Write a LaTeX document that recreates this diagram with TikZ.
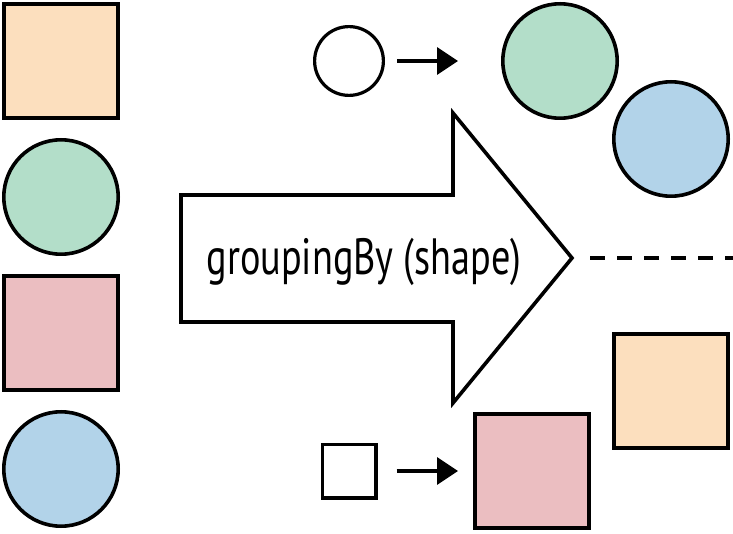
\documentclass[tikz,border=0pt]{standalone}
\usepackage{fontspec}
\newfontfamily\grpfont{PT Sans}[FakeStretch=0.75]
\usepackage{tikz}
\usetikzlibrary{positioning,arrows.meta}
\definecolor{peach}{RGB}{252,223,190}
\definecolor{mint}{RGB}{179,222,201}
\definecolor{rose}{RGB}{235,190,193}
\definecolor{sky}{RGB}{178,211,233}

\begin{document}
\begin{tikzpicture}[x=1pt,y=1pt,
		bigsquare/.style={rectangle,draw,line width=3.6pt,minimum size=114.4pt,inner sep=0pt},
		bigcircle/.style={circle,draw,line width=3.6pt,minimum size=114.4pt,inner sep=0pt},
		smallsquare/.style={rectangle,draw,line width=3.2pt,minimum size=53.8pt,inner sep=0pt},
		smallcircle/.style={circle,draw,line width=3.2pt,minimum size=68.8pt,inner sep=0pt},
		maparrow/.style={line width=3.4pt,-{Triangle[length=21pt,width=27pt]}},
		node distance=136pt
		]
		\useasboundingbox (0,0) rectangle (733,533);

		% stream of elements
		\node[bigsquare, fill=peach](Q1) at (61,472){};
		\node[bigcircle, fill=mint, below of = Q1](C1){};
		\node[bigsquare, fill=rose, below of = C1](Q2){};
		\node[bigcircle, fill=sky, below of = Q2](C2){};

		% collector
		\draw[line width=3.6pt] (181,211) -- (181,338) -- (453,338) -- (453,420)
			-- (572,275) -- (453,130) -- (453,211) -- cycle;
		\node[anchor=base, font=\grpfont\fontsize{51}{51}\selectfont](G) at (364,258){groupingBy (shape)};

		% circle group
		\node[smallcircle](C0) at (349,472){};
		\node[bigcircle, fill=mint, right of = C0, xshift = 75pt](C3){};
		\node[bigcircle, fill=sky, right of = C3, xshift = -25pt, yshift = -78pt](C4){};
		\draw[maparrow, shorten <=12pt, shorten >=43pt] (C0) -- (C3);

		% separator
		\coordinate (D0) at (590,275);
		\coordinate (D1) at (733,275);
		\draw[line width=3.4pt, dash pattern=on 15pt off 12pt] (D0) -- (D1);

		% square group
		\node[smallsquare](Q0) at (349,62){};
		\node[bigsquare, fill=rose, right of = Q0, xshift = 47pt](Q3){};
		\node[bigsquare, fill=peach, right of = Q3, xshift = 3pt, yshift = 80pt](Q4){};
		\draw[maparrow, shorten <=19pt, shorten >=15pt] (Q0) -- (Q3);
	\end{tikzpicture}
\end{document}
